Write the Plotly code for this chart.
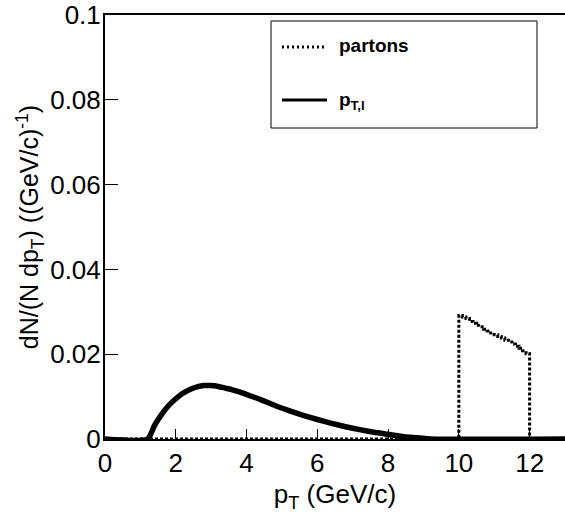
import plotly.graph_objects as go

# Parton spectrum: histogram bin edges (GeV/c) and bin contents
parton_edges = [0.0, 10.0, 10.1, 10.2, 10.3, 10.4, 10.5, 10.6, 10.7, 10.8, 10.9,
                11.0, 11.1, 11.2, 11.3, 11.4, 11.5, 11.6, 11.7, 11.8, 11.9, 12.0, 13.0]
parton_vals = [0.0, 0.0291, 0.0288, 0.0284, 0.0277, 0.0273, 0.0268, 0.0265, 0.0259,
               0.0255, 0.0250, 0.0246, 0.0242, 0.0238, 0.0233, 0.0229, 0.0224, 0.0219,
               0.0214, 0.0208, 0.0201, 0.0, 0.0]

# Lepton pT spectrum
lep_pt = [0.0, 1.2, 1.4, 1.6, 1.8, 2.0, 2.2, 2.4, 2.6, 2.8, 3.0, 3.2, 3.4, 3.6, 3.8,
          4.0, 4.4, 4.8, 5.2, 5.6, 6.0, 6.4, 6.8, 7.2, 7.6, 8.0, 8.4, 8.8, 9.2, 13.0]
lep_val = [0.0, 0.0, 0.0032, 0.0058, 0.0079, 0.0095, 0.0108, 0.0117, 0.0123, 0.0126,
           0.0126, 0.0124, 0.0120, 0.0116, 0.0111, 0.0105, 0.0093, 0.0079, 0.0067,
           0.0056, 0.0046, 0.0037, 0.0029, 0.0022, 0.0016, 0.0011, 0.0006, 0.0003,
           0.0, 0.0]

x_ticks = [0, 2, 4, 6, 8, 10, 12]
y_ticks = [0, 0.02, 0.04, 0.06, 0.08, 0.1]

FONT = "Liberation Sans, Arial, Helvetica, sans-serif"

fig = go.Figure()
fig.add_trace(go.Scatter(
    x=parton_edges, y=parton_vals, mode="lines", line_shape="hv",
    line=dict(color="black", width=3, dash="3px,2px"), name="partons",
    showlegend=False, hoverinfo="skip"))
fig.add_trace(go.Scatter(
    x=lep_pt, y=lep_val, mode="lines", line_shape="spline",
    line=dict(color="black", width=5.5, smoothing=0.6), name="pT,l",
    showlegend=False, hoverinfo="skip"))

# Plot area in pixels: x 105..565, y 15..439
L, R, T, B = 105, 565, 15, 439
W, H = 565, 514


def px(x):
    return (x - L) / (R - L)


def py(y):
    return (B - y) / (B - T)


shapes = [
    dict(type="rect", xref="paper", yref="paper",
         x0=px(271), x1=px(537), y0=py(128), y1=py(21),
         line=dict(color="black", width=1), fillcolor="white", layer="above"),
    dict(type="line", xref="paper", yref="paper",
         x0=px(282), x1=px(327), y0=py(47), y1=py(47),
         line=dict(color="black", width=3, dash="2px,3px"), layer="above"),
    dict(type="line", xref="paper", yref="paper",
         x0=px(282), x1=px(327), y0=py(100), y1=py(100),
         line=dict(color="black", width=3), layer="above"),
]

annotations = [
    dict(text="<b>partons</b>", xref="paper", yref="paper", x=px(337), y=py(46),
         xanchor="left", yanchor="middle", showarrow=False,
         font=dict(family=FONT, size=19, color="black")),
    dict(text="<b>p<sub>T,l</sub></b>", xref="paper", yref="paper", x=px(337), y=py(101),
         xanchor="left", yanchor="middle", showarrow=False,
         font=dict(family=FONT, size=19, color="black")),
]

fig.update_layout(
    width=W, height=H,
    margin=dict(l=L, r=W - R, t=T, b=H - B, pad=0),
    paper_bgcolor="white", plot_bgcolor="white",
    font=dict(family=FONT, size=26, color="black"),
    shapes=shapes, annotations=annotations,
    xaxis=dict(
        range=[0, 13], tickvals=x_ticks, ticktext=[str(v) for v in x_ticks],
        ticks="inside", ticklen=10, tickwidth=1, tickcolor="black",
        showline=True, linecolor="black", linewidth=2, mirror=True,
        showgrid=False, zeroline=False,
        title=dict(text="p<sub>T</sub> (GeV/c)", standoff=8,
                   font=dict(family=FONT, size=26)),
        tickfont=dict(family=FONT, size=26),
    ),
    yaxis=dict(
        range=[0, 0.1], tickvals=y_ticks,
        ticktext=["0", "0.02", "0.04", "0.06", "0.08", "0.1"],
        ticks="inside", ticklen=13, tickwidth=1, tickcolor="black",
        showline=True, linecolor="black", linewidth=2, mirror=False,
        showgrid=False, zeroline=False, ticklabelstandoff=-3,
        title=dict(text="dN/(N dp<sub>T</sub>) ((GeV/c)<sup>-1</sup>)", standoff=4,
                   font=dict(family=FONT, size=25)),
        tickfont=dict(family=FONT, size=26),
    ),
)

fig.write_html("out.html")
